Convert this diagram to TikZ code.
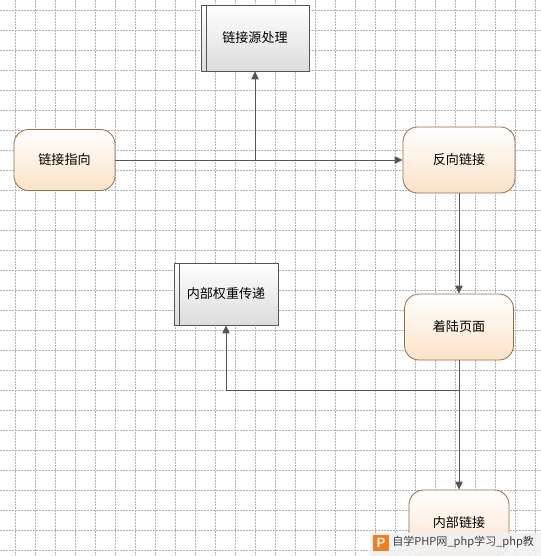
\documentclass[tikz,border=0pt]{standalone}
\usepackage{fontspec}
\newfontfamily\cjk{Noto Sans CJK SC}
\usepackage{xcolor}
\usetikzlibrary{arrows.meta, positioning, calc}
\definecolor{gridgray}{RGB}{178,178,178}
\definecolor{linegray}{RGB}{85,85,85}
\definecolor{flowedge}{RGB}{150,108,72}
\definecolor{flowfill}{RGB}{252,226,200}
\definecolor{subedge}{RGB}{85,85,85}
\definecolor{subfill}{RGB}{220,220,220}
\definecolor{markorange}{RGB}{240,125,35}

\tikzset{
  flownode/.style={draw=flowedge, line width=0.6pt, rounded corners=11pt,
    top color=white, bottom color=flowfill, minimum height=49.5pt,
    font=\cjk\fontsize{9.8}{11}\selectfont},
  subnode/.style={draw=subedge, line width=0.6pt,
    top color=white, bottom color=subfill, minimum height=49.5pt,
    font=\cjk\fontsize{9.8}{11}\selectfont,
    path picture={\draw[subedge, line width=0.6pt]
      ([xshift=3.75pt]path picture bounding box.north west) --
      ([xshift=3.75pt]path picture bounding box.south west);}},
  link/.style={draw=linegray, line width=0.7pt,
    -{Triangle[length=6pt, width=5.5pt]}}
}

\begin{document}
\begin{tikzpicture}[x=0.75pt, y=-0.75pt]
    \useasboundingbox (0,0) rectangle (541,556);
    \clip (0,0) rectangle (541,556);
    % --- grid ---
    \foreach \gx in {15,35,...,535}
      \draw[gridgray, line width=0.5pt, dash pattern=on 1.5pt off 0.75pt] (\gx,0) -- (\gx,556);
    \foreach \gy in {10,30,...,550}
      \draw[gridgray, line width=0.5pt, dash pattern=on 1.5pt off 0.75pt] (0,\gy) -- (541,\gy);

    % --- nodes ---
    \node[subnode, minimum width=81pt] (source) at (255,38) {链接源处理};
    \node[flownode, minimum width=75.75pt, minimum height=45.75pt] (pointing) at (64.5,160) {链接指向};
    \node[flownode, minimum width=84pt] (backlink) at (459,160) {反向链接};
    \node[subnode, minimum width=78pt, minimum height=46.5pt] (weight) at (226,294) {内部权重传递};
    \node[flownode, minimum width=81.75pt] (landing) at (459,327) {着陆页面};
    \node[flownode, minimum width=75pt] (internal) at (459,523) {内部链接};

    % --- connectors ---
    \coordinate (split) at (255,160);
    \coordinate (fork) at (459,390);
    \draw[link] (pointing) -- (backlink);
    \draw[link] (split) -- (source);
    \draw[link] (backlink) -- (landing);
    \draw[link] (landing) -- (internal);
    \draw[link] (fork) -| (weight);

    % --- watermark ---
    \fill[white!90!gray, opacity=0.9] (370,533) rectangle (541,556);
    \fill[markorange] (373,535) rectangle (389,551);
    \node[font=\sffamily\bfseries\fontsize{10}{10}\selectfont, text=white] (mark) at (381,543) {P};
    \node[anchor=west, inner sep=0pt, text=black!75,
          font=\cjk\fontsize{8.3}{10}\selectfont] (marktext) at (392,542.5) {自学PHP网\_php学习\_php教};
  \end{tikzpicture}
\end{document}
